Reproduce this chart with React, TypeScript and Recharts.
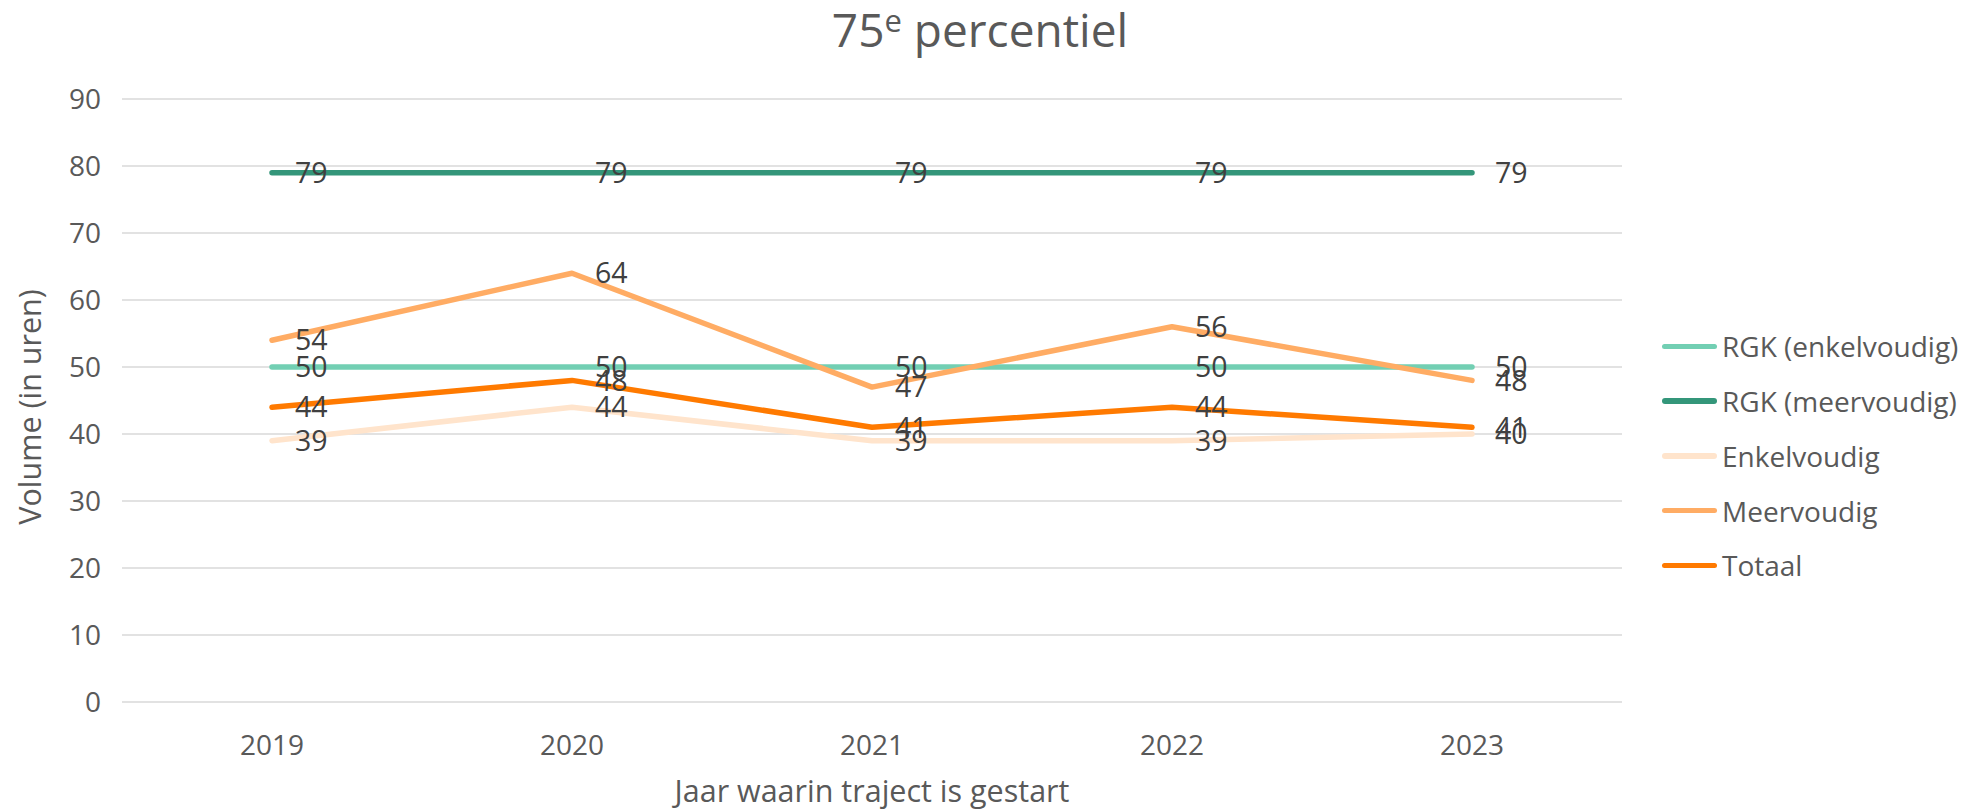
import React from 'react';
import { LineChart, Line, XAxis, YAxis, CartesianGrid, Legend, LabelList, Customized } from 'recharts';

const years = ['2019', '2020', '2021', '2022', '2023'];
const rgkEnkelvoudig = [50, 50, 50, 50, 50];
const rgkMeervoudig = [79, 79, 79, 79, 79];
const enkelvoudig = [39, 44, 39, 39, 40];
const meervoudig = [54, 64, 47, 56, 48];
const totaal = [44, 48, 41, 44, 41];
const yTicks = [0, 10, 20, 30, 40, 50, 60, 70, 80, 90];

const FONT = '"Open Sans", "Noto Sans", sans-serif';
const TEXT = '#595959';

const series = [
  { key: 'rgkEnk', name: 'RGK (enkelvoudig)', values: rgkEnkelvoudig, color: '#72CFB3' },
  { key: 'rgkMeer', name: 'RGK (meervoudig)', values: rgkMeervoudig, color: '#34967A' },
  { key: 'enk', name: 'Enkelvoudig', values: enkelvoudig, color: '#FFE4CC' },
  { key: 'meer', name: 'Meervoudig', values: meervoudig, color: '#FFAC64' },
  { key: 'totaal', name: 'Totaal', values: totaal, color: '#FF7A00' },
];

const data = years.map((year, i) => {
  const row: Record<string, string | number> = { year };
  series.forEach((s) => { row[s.key] = s.values[i]; });
  return row;
});

// value label to the right of each point, like Excel's "right" position
const ValueLabel = (props: any) => {
  const { x, y, value } = props;
  if (x == null || y == null) return null;
  return (
    <text x={x + 23} y={y} dy="0.36em" fontSize={28.5} fill="#404040" fontFamily={FONT}>
      {value}
    </text>
  );
};

const LegendContent = () => (
  <div style={{ fontFamily: FONT, fontSize: 28, color: TEXT }}>
    {series.map((s) => (
      <div key={s.key} style={{ display: 'flex', alignItems: 'center', height: 54.75, whiteSpace: 'nowrap' }}>
        <span style={{ display: 'inline-block', width: 55, height: 5.5, borderRadius: 3, background: s.color, marginRight: 5 }} />
        <span>{s.name}</span>
      </div>
    ))}
  </div>
);

const Title = () => (
  <text x={980} y={47} textAnchor="middle" fontSize={46} fill={TEXT} fontFamily={FONT}>
    75<tspan dy={-15} fontSize={31}>e</tspan>
    <tspan dy={15}> percentiel</tspan>
  </text>
);

const App: React.FC = () => {
  return (
    <div style={{ position: 'absolute', left: 0, top: 0, width: 1972, height: 810, background: '#fff' }}>
      <LineChart
        width={1972}
        height={810}
        data={data}
        margin={{ top: 99, right: 350, bottom: 0, left: 0 }}
        style={{ fontFamily: FONT }}
      >
        <CartesianGrid vertical={false} stroke="#D9D9D9" strokeWidth={1.3} />
        <XAxis
          dataKey="year"
          height={108}
          padding={{ left: 150, right: 150 }}
          axisLine={false}
          tickLine={false}
          tickMargin={27}
          tick={{ fontSize: 28, fill: TEXT, fontFamily: FONT }}
          label={{
            value: 'Jaar waarin traject is gestart',
            position: 'insideBottom',
            offset: 8,
            fontSize: 30.5,
            fill: TEXT,
            fontFamily: FONT,
          }}
        />
        <YAxis
          width={122}
          domain={[0, 90]}
          ticks={yTicks}
          interval={0}
          axisLine={false}
          tickLine={false}
          tickMargin={15}
          tick={{ fontSize: 28, fill: TEXT, fontFamily: FONT }}
          label={{
            content: () => (
              <text
                x={30}
                y={407}
                dy="0.36em"
                transform="rotate(-90, 30, 407)"
                textAnchor="middle"
                fontSize={30.5}
                fill={TEXT}
                fontFamily={FONT}
              >
                Volume (in uren)
              </text>
            ),
          }}
        />
        <Legend
          layout="vertical"
          align="center"
          verticalAlign="middle"
          content={LegendContent}
          wrapperStyle={{ left: 1662, top: 319, width: 310 }}
        />
        {series.map((s) => (
          <Line
            key={s.key}
            type="linear"
            dataKey={s.key}
            name={s.name}
            stroke={s.color}
            strokeWidth={5.5}
            strokeLinecap="round"
            strokeLinejoin="round"
            dot={false}
            activeDot={false}
            isAnimationActive={false}
          />
        ))}
        {/* invisible copies so the value labels sit above every line */}
        {series.map((s) => (
          <Line
            key={`${s.key}-labels`}
            type="linear"
            dataKey={s.key}
            stroke="none"
            dot={false}
            activeDot={false}
            legendType="none"
            isAnimationActive={false}
          >
            <LabelList dataKey={s.key} content={ValueLabel} />
          </Line>
        ))}
        <Customized component={<Title />} />
      </LineChart>
    </div>
  );
};

export default App;
